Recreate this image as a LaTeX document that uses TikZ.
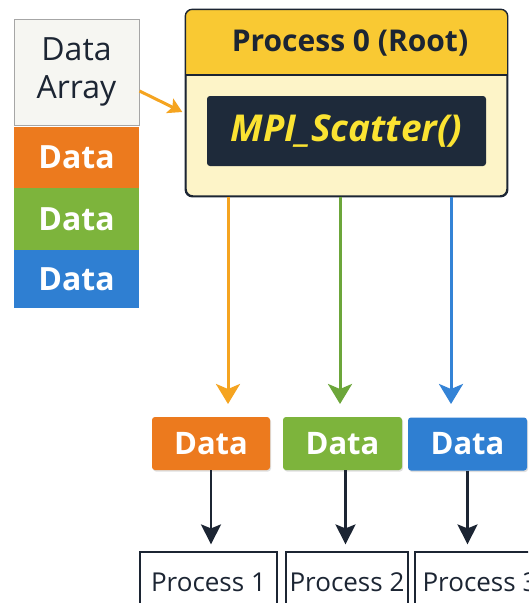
\documentclass[tikz,border=0pt]{standalone}
\usepackage{fontspec}
\setmainfont{Open Sans}
\usetikzlibrary{arrows.meta,shadows}
\definecolor{dorange}{HTML}{EC7A1E}
\definecolor{dgreen}{HTML}{7DB43C}
\definecolor{dblue}{HTML}{2F7FD2}
\definecolor{aorange}{HTML}{F5A420}
\definecolor{lgreen}{HTML}{6CA63A}
\definecolor{lblue}{HTML}{3483D6}
\definecolor{hyellow}{HTML}{F9C933}
\definecolor{cream}{HTML}{FDF4C8}
\definecolor{navy}{HTML}{1E2A3A}
\definecolor{tyellow}{HTML}{FBE332}
\definecolor{darr}{HTML}{F6F6F2}
\definecolor{ink}{HTML}{1C2533}
\tikzset{
  colcell/.style={minimum width=125pt, inner sep=0pt, text=white, font=\fontsize{32}{34}\selectfont\bfseries},
  databox/.style={rounded corners=3pt, minimum height=53pt, inner sep=0pt, text=white,
    font=\fontsize{31}{33}\selectfont\bfseries, drop shadow={opacity=0.25, shadow xshift=1pt, shadow yshift=-1.5pt}},
  procbox/.style={draw=ink, line width=1.2pt, fill=white, minimum height=60pt, inner sep=0pt, text=ink,
    font=\fontsize{26}{28}\selectfont},
  colarrow/.style={line width=3pt, -{Stealth[length=20pt,width=24pt,inset=5pt]}},
  darkarrow/.style={draw=ink, line width=2.2pt, -{Stealth[length=20pt,width=20pt,inset=4pt]}}
}
\begin{document}
\begin{tikzpicture}[x=1pt,y=-1pt]
\useasboundingbox (0,0) rectangle (528,603);
\clip (0,0) rectangle (528,603);
\fill[white] (0,0) rectangle (528,603);

% data array column
\node[colcell, fill=darr, draw=gray!70, line width=1pt, minimum height=106pt, text=ink,
  font=\fontsize{32}{38}\selectfont, align=center] (arr) at (76.5,72) {Data\\Array};
\node[colcell, fill=dorange, minimum height=61pt] (d1) at (76.5,157.5) {Data};
\node[colcell, fill=dgreen, minimum height=62pt] (d2) at (76.5,219) {Data};
\node[colcell, fill=dblue, minimum height=58pt] (d3) at (76.5,279) {Data};

% root box
\node[draw=ink, line width=1.4pt, fill=cream, rounded corners=7pt, minimum width=321pt,
  minimum height=186pt, inner sep=0pt] (root) at (346.5,103) {};
\begin{scope}
  \clip[rounded corners=7pt] (root.north west) rectangle (root.south east);
  \fill[hyellow] (186,10) rectangle (507,75);
\end{scope}
\draw[ink, line width=1.4pt, rounded corners=7pt] (root.north west) rectangle (root.south east);
\draw[ink, line width=1.2pt] (186,75) -- (507,75);
\node[text=ink, font=\fontsize{30}{32}\selectfont\bfseries] (hdr) at (350,43) {Process 0 (Root)};
\node[fill=navy, rounded corners=3pt, minimum width=279pt, minimum height=70pt, inner sep=0pt,
  text=tyellow, font=\fontsize{37}{39}\selectfont\bfseries\itshape] (mpi) at (346.5,131) {MPI\_Scatter()};

% arrow from data array to root
\draw[aorange, line width=3pt, -{Stealth[length=14pt,width=16pt,inset=3pt]}]
  ([yshift=-19pt]arr.east) -- ([yshift=-9pt,xshift=-3pt]root.west);

% bottom data boxes
\node[databox, fill=dorange, minimum width=118pt] (b1) at (211,443.5) {Data};
\node[databox, fill=dgreen, minimum width=119pt] (b2) at (342.5,443.5) {Data};
\node[databox, fill=dblue, minimum width=119pt] (b3) at (467.5,444) {Data};

% scatter arrows
\coordinate (t1) at (228,404);
\coordinate (t2) at (340,404);
\coordinate (t3) at (451,404);
\draw[colarrow, aorange] (root.south -| t1) -- (t1);
\draw[colarrow, lgreen] (root.south -| t2) -- (t2);
\draw[colarrow, lblue] (root.south -| t3) -- (t3);

% process boxes
\node[procbox, minimum width=137pt] (p1) at (208.5,582) {Process 1};
\node[procbox, minimum width=122pt] (p2) at (347,582) {Process 2};
\node[procbox, minimum width=130pt] (p3) at (480,582) {Process 3};

% data -> process arrows
\draw[darkarrow] (b1.south) -- ([yshift=7pt]b1.south |- p1.north);
\draw[darkarrow] ([xshift=3pt]b2.south) -- ([xshift=3pt,yshift=7pt]b2.south |- p2.north);
\draw[darkarrow] (b3.south) -- ([yshift=7pt]b3.south |- p3.north);
\end{tikzpicture}
\end{document}
